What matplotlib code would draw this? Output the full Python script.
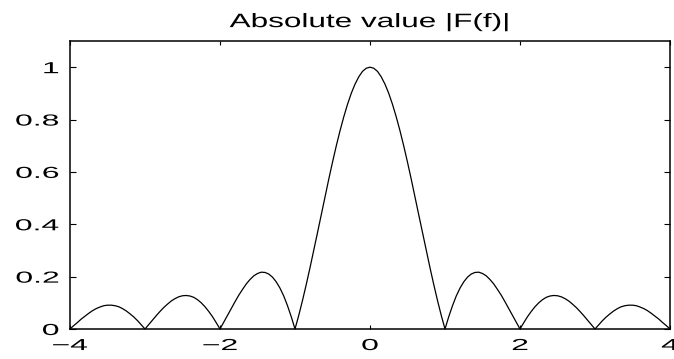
import numpy as np
import matplotlib
matplotlib.use("Agg")
import matplotlib.pyplot as plt
from matplotlib.patheffects import AbstractPathEffect
from matplotlib.transforms import Affine2D

plt.rcParams['font.family'] = ['Liberation Sans', 'DejaVu Sans']

# ---- data -------------------------------------------------------------
title_text = "Absolute value |F(f)|"

freq_min, freq_max, n_samples = -4.0, 4.0, 161

# |F(f)| sampled every 0.05 from f = -4 to f = 4
magnitude = [
    0.000, 0.013, 0.025, 0.038, 0.049, 0.060, 0.070, 0.078, 0.084, 0.089,
    0.091, 0.091, 0.089, 0.085, 0.078, 0.069, 0.058, 0.046, 0.032, 0.016,
    0.000, 0.017, 0.034, 0.051, 0.067, 0.082, 0.095, 0.107, 0.116, 0.123,
    0.127, 0.128, 0.126, 0.121, 0.112, 0.100, 0.085, 0.067, 0.047, 0.024,
    0.000, 0.026, 0.052, 0.078, 0.104, 0.129, 0.151, 0.172, 0.189, 0.203,
    0.212, 0.217, 0.216, 0.210, 0.198, 0.180, 0.156, 0.126, 0.089, 0.047,
    0.000, 0.052, 0.109, 0.170, 0.234, 0.300, 0.368, 0.436, 0.505, 0.572,
    0.637, 0.699, 0.757, 0.810, 0.858, 0.900, 0.935, 0.963, 0.984, 0.996,
    1.000,
    0.996, 0.984, 0.963, 0.935, 0.900, 0.858, 0.810, 0.757, 0.699, 0.637,
    0.572, 0.505, 0.436, 0.368, 0.300, 0.234, 0.170, 0.109, 0.052, 0.000,
    0.047, 0.089, 0.126, 0.156, 0.180, 0.198, 0.210, 0.216, 0.217, 0.212,
    0.203, 0.189, 0.172, 0.151, 0.129, 0.104, 0.078, 0.052, 0.026, 0.000,
    0.024, 0.047, 0.067, 0.085, 0.100, 0.112, 0.121, 0.126, 0.128, 0.127,
    0.123, 0.116, 0.107, 0.095, 0.082, 0.067, 0.051, 0.034, 0.017, 0.000,
    0.016, 0.032, 0.046, 0.058, 0.069, 0.078, 0.085, 0.089, 0.091, 0.091,
    0.089, 0.084, 0.078, 0.070, 0.060, 0.049, 0.038, 0.025, 0.013, 0.000,
]

x_ticks = [-4, -2, 0, 2, 4]
x_tick_labels = ["\u22124", "\u22122", "0", "2", "4"]
y_ticks = [0, 0.2, 0.4, 0.6, 0.8, 1.0]
y_tick_labels = ["0", "0.2", "0.4", "0.6", "0.8", "1"]


class HStretch(AbstractPathEffect):
    """Draw text stretched horizontally about its left, centre or right edge."""

    def __init__(self, factor, anchor="center"):
        super().__init__()
        self.factor = factor
        self.anchor = anchor

    def draw_path(self, renderer, gc, tpath, affine, rgbFace=None):
        ext = tpath.get_extents(affine)
        if self.anchor == "right":
            cx = ext.x1
        elif self.anchor == "left":
            cx = ext.x0
        else:
            cx = 0.5 * (ext.x0 + ext.x1)
        stretched = affine + Affine2D().translate(-cx, 0).scale(self.factor, 1).translate(cx, 0)
        renderer.draw_path(gc, tpath, stretched, rgbFace)


# ---- figure -----------------------------------------------------------
W, H = 674, 359
fig = plt.figure(figsize=(W / 100, H / 100), dpi=100)
fig.patch.set_facecolor("white")
ax = fig.add_axes([70 / W, (H - 329) / H, 600 / W, 288 / H])

freq = np.linspace(freq_min, freq_max, n_samples)
ax.plot(freq, magnitude, color="black", linewidth=0.9, clip_on=False)

ax.set_xlim(freq_min, freq_max)
ax.set_ylim(0, 1.1)

ax.set_xticks(x_ticks)
ax.set_xticklabels(x_tick_labels)
ax.set_yticks(y_ticks)
ax.set_yticklabels(y_tick_labels)

ax.tick_params(axis="x", direction="in", top=True, bottom=True, length=2.6,
               width=0.8, labelsize=11.5, pad=6.5)
ax.tick_params(axis="y", direction="in", left=True, right=True, length=4.3,
               width=0.8, labelsize=11.5, pad=8)

for sp in ax.spines.values():
    sp.set_linewidth(1.1)

for lbl in ax.get_xticklabels():
    lbl.set_path_effects([HStretch(2.0, "center")])
for lbl in ax.get_yticklabels():
    lbl.set_path_effects([HStretch(2.0, "right")])

ax.set_title(title_text, fontsize=14, pad=10,
             path_effects=[HStretch(1.62, "center")])

fig.savefig("out.png", dpi=100, facecolor="white")
